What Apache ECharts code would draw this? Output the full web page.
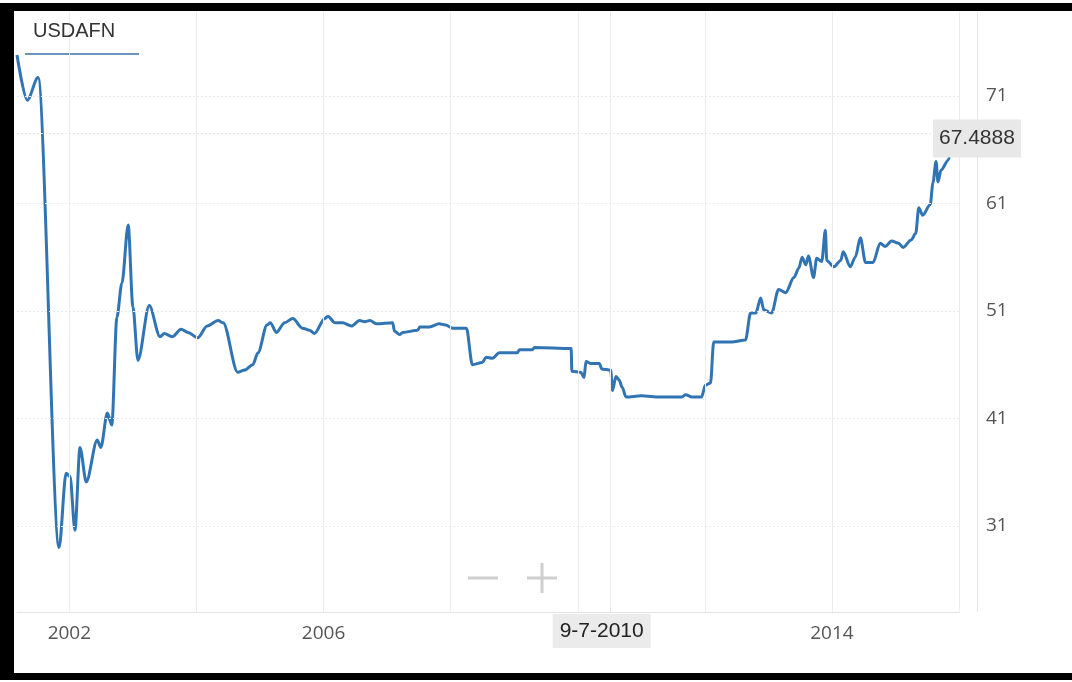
<!DOCTYPE html>
<html>
<head>
<meta charset="utf-8">
<script src="https://cdn.jsdelivr.net/npm/echarts@6/dist/echarts.min.js"></script>
<style>
html,body{margin:0;padding:0;background:#fff;width:1072px;height:682px;overflow:hidden;}
#chart{position:absolute;left:0;top:0;width:1072px;height:682px;}
#frame{position:absolute;left:0;top:3px;width:1100px;height:662px;border-top:8px solid #000;border-left:14px solid #000;border-bottom:7px solid #000;pointer-events:none;z-index:10;}
</style>
</head>
<body>
<div id="chart"></div>
<div id="frame"></div>
<script>
const seriesName = 'USDAFN';
const dates = [
'2001-03-06','2001-05-04','2001-07-05','2001-11-03','2001-12-13','2002-01-05','2002-02-02','2002-03-03',
'2002-04-08','2002-06-10','2002-07-01','2002-08-07','2002-09-02','2002-10-01','2002-10-30','2002-12-05',
'2003-01-01','2003-01-30','2003-04-05','2003-06-06','2003-07-01','2003-08-15','2003-10-05','2003-11-14',
'2004-01-08','2004-03-03','2004-05-05','2004-06-03','2004-08-25','2004-10-05','2004-11-20','2004-12-20',
'2005-02-10','2005-03-01','2005-04-05','2005-05-22','2005-07-08','2005-09-02','2005-10-12','2005-11-10',
'2006-01-08','2006-01-26','2006-03-07','2006-04-20','2006-06-10','2006-07-27','2006-08-25','2006-09-24',
'2006-11-03','2007-02-02','2007-02-13','2007-03-14','2007-04-01','2007-06-25','2007-07-09','2007-09-02',
'2007-10-27','2007-12-03','2008-01-12','2008-04-01','2008-05-05','2008-07-01','2008-07-23','2008-08-28',
'2008-10-08','2009-01-19','2009-01-30','2009-04-16','2009-04-27','2009-11-24','2009-11-28','2010-01-19',
'2010-02-06','2010-02-17','2010-03-18','2010-05-05','2010-05-19','2010-07-09','2010-07-20','2010-08-08',
'2010-08-26','2010-09-13','2010-10-05','2011-01-01','2011-04-20','2011-08-22','2011-09-13','2011-10-20',
'2011-12-13','2012-01-05','2012-02-03','2012-02-21','2012-06-03','2012-08-22','2012-09-20','2012-10-20',
'2012-11-17','2012-12-05','2013-01-19','2013-02-28','2013-04-10','2013-05-27','2013-06-25','2013-07-13',
'2013-08-04','2013-08-19','2013-09-17','2013-10-05','2013-11-03','2013-11-24','2013-12-02','2014-01-12',
'2014-02-20','2014-03-07','2014-04-16','2014-05-15','2014-06-13','2014-07-13','2014-08-25','2014-10-05',
'2014-11-03','2014-12-10','2015-01-19','2015-02-14','2015-04-01','2015-04-27','2015-05-15','2015-06-06',
'2015-07-20','2015-08-04','2015-08-22','2015-09-02','2015-09-20','2015-10-30','2015-12-02'
];
const values = [
74.8,70.6,72.7,29.0,35.9,35.6,30.6,38.3,
35.1,39.0,38.3,41.5,40.4,50.4,53.6,59.0,
51.4,46.4,51.5,48.6,48.9,48.6,49.3,49.0,
48.5,49.6,50.1,49.9,45.3,45.5,46.0,47.1,
49.7,49.9,49.0,49.9,50.3,49.4,49.2,48.9,
50.3,50.5,49.9,49.9,49.6,50.1,50.0,50.1,
49.8,49.9,49.1,48.8,49.0,49.2,49.5,49.5,
49.8,49.7,49.4,49.4,46.0,46.2,46.7,46.6,
47.1,47.1,47.4,47.4,47.6,47.5,45.4,45.3,
44.8,46.3,46.1,46.1,45.6,45.5,43.6,44.9,
44.6,43.9,43.0,43.1,43.0,43.0,43.2,43.0,
43.0,44.1,44.3,48.1,48.1,48.3,50.8,50.8,
52.2,51.1,50.8,53.0,52.7,54.1,55.0,56.0,
55.3,56.1,54.1,55.9,55.6,58.5,55.7,55.1,
55.7,56.5,55.1,56.0,57.8,55.5,55.5,57.3,
57.0,57.5,57.3,56.9,57.6,58.2,60.6,59.9,
60.9,62.9,64.9,63.0,64.1,65.0,67.4888
];
const yTickValues = [31, 41, 51, 61, 71];
const xGridYears = [2002, 2004, 2006, 2008, 2010, 2012, 2014, 2016];
const xLabelYears = [2002, 2006, 2014];
const hoverDate = '2010-07-09';
const hoverLabel = '9-7-2010';
const lastValueLabel = '67.4888';

const ts = y => +new Date(y, 0, 1);
const lineData = dates.map((d, i) => [d, values[i]]);

const gridLines = [];
xGridYears.forEach(y => gridLines.push({
  xAxis: ts(y),
  lineStyle: {color: '#ededed', type: 'solid', width: 1},
  label: xLabelYears.indexOf(y) >= 0 ? {
    show: true, position: 'start', distance: 12, formatter: String(y),
    fontSize: 19, color: '#555', fontFamily: 'Open Sans, sans-serif'
  } : {show: false}
}));
yTickValues.forEach(v => gridLines.push({yAxis: v, lineStyle: {color: '#e9e9e9', type: [2, 2], width: 1}, label: {show: false}}));

const chart = echarts.init(document.getElementById('chart'));
chart.setOption({
  animation: false,
  backgroundColor: '#fff',
  title: {
    text: seriesName, left: 28, top: 16,
    textStyle: {fontSize: 20, fontWeight: 'normal', color: '#333', fontFamily: 'Liberation Sans, Arial, sans-serif'}
  },
  grid: {left: 17, right: 113, top: 12, bottom: 70, containLabel: false},
  xAxis: {
    type: 'time',
    min: '2001-03-06',
    max: ts(2016),
    axisLine: {show: true, lineStyle: {color: '#e4e4e4'}},
    axisTick: {show: false},
    splitLine: {show: false},
    axisLabel: {show: false}
  },
  yAxis: {
    type: 'value',
    position: 'right',
    offset: 18,
    min: 23, max: 78.8,
    axisLine: {show: true, lineStyle: {color: '#e8e8e8'}},
    axisTick: {show: false},
    splitLine: {show: false},
    axisLabel: {
      customValues: yTickValues,
      fontSize: 19, color: '#555', margin: 9, fontFamily: 'Open Sans, sans-serif'
    }
  },
  graphic: [
    {type: 'line', shape: {x1: 25, y1: 54, x2: 139, y2: 54}, style: {stroke: '#3b6fa6', lineWidth: 1.5}},
    {type: 'line', shape: {x1: 468, y1: 578, x2: 498, y2: 578}, style: {stroke: '#cfcfcf', lineWidth: 3}},
    {type: 'line', shape: {x1: 527, y1: 578, x2: 557, y2: 578}, style: {stroke: '#cfcfcf', lineWidth: 3}},
    {type: 'line', shape: {x1: 542, y1: 563, x2: 542, y2: 593}, style: {stroke: '#cfcfcf', lineWidth: 3}}
  ],
  series: [
    {
      type: 'line', data: lineData, silent: true, showSymbol: false,
      lineStyle: {opacity: 0}, itemStyle: {opacity: 0}, z: 1,
      markLine: {silent: true, symbol: 'none', animation: false, data: gridLines}
    },
    {
      name: seriesName,
      type: 'line',
      data: lineData,
      showSymbol: false,
      smooth: 0.3,
      smoothMonotone: 'x',
      lineStyle: {color: '#3174b3', width: 3},
      itemStyle: {color: '#3174b3'},
      z: 3,
      markLine: {
        silent: true, symbol: 'none', animation: false,
        data: [
          {
            yAxis: 67.4888,
            lineStyle: {color: '#e6e6e6', type: [2, 2], width: 1},
            label: {
              show: true, position: 'end', formatter: lastValueLabel, distance: 0, offset: [-26, 5],
              backgroundColor: '#e8e8e8', padding: [9, 6, 8, 6], color: '#333', fontSize: 21,
              fontFamily: 'Liberation Sans, Arial, sans-serif'
            }
          },
          {
            xAxis: hoverDate,
            lineStyle: {color: '#ececec', type: 'solid', width: 1},
            label: {
              show: true, position: 'start', formatter: hoverLabel, distance: 2, offset: [-9, 0],
              backgroundColor: '#ebebeb', padding: [7, 7, 6, 7], color: '#222', fontSize: 21,
              fontFamily: 'Liberation Sans, Arial, sans-serif'
            }
          }
        ]
      }
    }
  ]
});
</script>
</body>
</html>
